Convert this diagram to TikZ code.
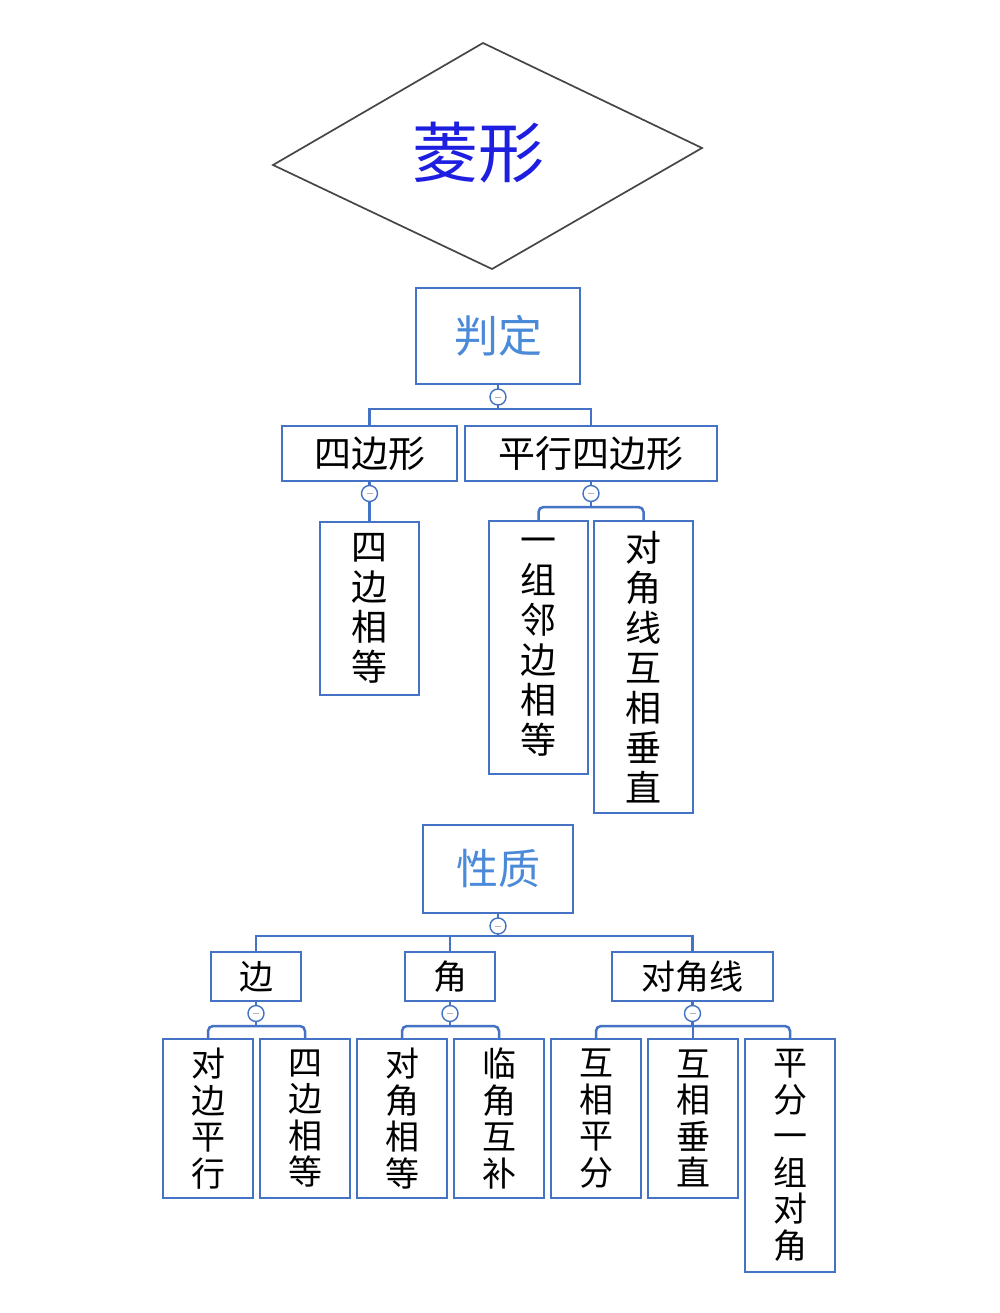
\documentclass[tikz,border=0pt]{standalone}
\usepackage{fontspec}
\newfontfamily\cjk{Noto Sans CJK SC}
\usetikzlibrary{positioning}
\definecolor{boxblue}{HTML}{4472C4}
\definecolor{headblue}{HTML}{4A8AD8}
\definecolor{titleblue}{RGB}{30,30,225}

\begin{document}
\begin{tikzpicture}[
    x=1pt, y=-1pt,
    every node/.style={outer sep=0pt},
    head/.style={draw=boxblue, line width=2pt, text=headblue, inner sep=0pt},
    cat/.style={draw=boxblue, line width=2pt, inner sep=0pt, minimum height=55pt,
      font=\cjk\fontsize{37}{40}\selectfont},
    leaf/.style={draw=boxblue, line width=2pt, inner sep=0pt, align=center,
      minimum width=99pt, font=\cjk\fontsize{36}{40}\selectfont},
    small/.style={draw=boxblue, line width=2pt, inner sep=0pt, align=center,
      minimum width=90pt, font=\cjk\fontsize{34}{36.5}\selectfont},
    fold/.style={circle, draw=boxblue, line width=1.4pt, fill=white, minimum size=16pt,
      inner sep=0pt, path picture={\draw[gray!60, line width=0.8pt]
        ([xshift=-3pt]path picture bounding box.center) -- ([xshift=3pt]path picture bounding box.center);}},
    link/.style={draw=boxblue, line width=2.5pt}
  ]
  \fill[white] (0,0) rectangle (1000,1313);
  \useasboundingbox (0,0) rectangle (1000,1313);

  % title
  \coordinate (dtop) at (483,43);
  \coordinate (dright) at (702,148);
  \coordinate (dbottom) at (492,269);
  \coordinate (dleft) at (273,165);
  \draw[gray!55!black, line width=1.7pt] (dtop) -- (dright) -- (dbottom) -- (dleft) -- cycle;
  \node[text=titleblue, font=\cjk\fontsize{66}{70}\selectfont] (title) at (478,153) {菱形};

  % 判定
  \node[head, minimum width=164pt, minimum height=96pt, font=\cjk\fontsize{44}{48}\selectfont] (panding) at (498,336) {判定};
  \node[fold, below=5pt of panding] (f1) {};
  \coordinate[below=4pt of f1] (j1);
  \node[cat, minimum width=175pt, below left=17pt and 41pt of j1] (sibian) {四边形};
  \node[cat, minimum width=252pt, right=8pt of sibian] (pingxing) {平行四边形};

  \node[fold, below=4.5pt of sibian] (f2) {};
  \node[leaf, minimum height=173pt, below=20pt of f2] (sbxd) {四\\边\\相\\等};

  \node[fold, below=4.5pt of pingxing] (f3) {};
  \coordinate[below=5.5pt of f3] (j3);
  \node[leaf, minimum height=253pt, below left=14pt and 3pt of j3] (yzlb) {一\\组\\邻\\边\\相\\等};
  \node[leaf, minimum height=292pt, right=6pt of yzlb.north east, anchor=north west] (djcz) {对\\角\\线\\互\\相\\垂\\直};

  \draw[link] (panding) -- (f1) -- (j1);
  \draw[link] (sibian.north) |- (j1) -| (pingxing.north);
  \draw[link] (sibian) -- (f2) -- (sbxd);
  \draw[link] (pingxing) -- (f3) -- (j3);
  \draw[link, rounded corners=5pt] (yzlb.north) |- (j3) -| (djcz.north);

  % 性质
  \node[head, minimum width=150pt, minimum height=88pt, font=\cjk\fontsize{42}{46}\selectfont] (xingzhi) at (498,869) {性质};
  \node[fold, below=5pt of xingzhi] (f4) {};
  \coordinate[below=2pt of f4] (j4);
  \node[cat, minimum width=90pt, minimum height=49pt, font=\cjk\fontsize{34}{36}\selectfont,
    below left=16pt and 3pt of j4] (jiao) {角};
  \node[cat, minimum width=90pt, minimum height=49pt, font=\cjk\fontsize{34}{36}\selectfont,
    left=104pt of jiao] (bian) {边};
  \node[cat, minimum width=161pt, minimum height=49pt, font=\cjk\fontsize{34}{36}\selectfont,
    right=117pt of jiao] (djx) {对角线};

  \draw[link] (xingzhi) -- (f4) -- (j4);
  \draw[link] (bian.north) |- (j4) -| (djx.north);
  \draw[link] (jiao.north) |- (j4);

  \node[fold, below=4.5pt of bian] (f5) {};
  \node[fold, below=4.5pt of jiao] (f6) {};
  \node[fold, below=4.5pt of djx] (f7) {};
  \coordinate[below=4.5pt of f5] (j5);
  \coordinate[below=4.5pt of f6] (j6);
  \coordinate[below=4.5pt of f7] (j7);

  \node[small, minimum height=159pt, below left=13pt and 3pt of j5] (dbpx) {对\\边\\平\\行};
  \node[small, minimum height=159pt, right=7pt of dbpx.north east, anchor=north west] (bxd) {四\\边\\相\\等};
  \node[small, minimum height=159pt, right=7pt of bxd.north east, anchor=north west] (djxd) {对\\角\\相\\等};
  \node[small, minimum height=159pt, right=7pt of djxd.north east, anchor=north west] (ljhb) {临\\角\\互\\补};
  \node[small, minimum height=159pt, right=7pt of ljhb.north east, anchor=north west] (hxpf) {互\\相\\平\\分};
  \node[small, minimum height=159pt, right=7pt of hxpf.north east, anchor=north west] (hxcz) {互\\相\\垂\\直};
  \node[small, minimum height=233pt, right=7pt of hxcz.north east, anchor=north west] (pfdj) {平\\分\\一\\组\\对\\角};

  \draw[link] (bian) -- (f5) -- (j5);
  \draw[link] (jiao) -- (f6) -- (j6);
  \draw[link] (djx) -- (f7) -- (j7);
  \draw[link, rounded corners=5pt] (dbpx.north) |- (j5) -| (bxd.north);
  \draw[link, rounded corners=5pt] (djxd.north) |- (j6) -| (ljhb.north);
  \draw[link, rounded corners=5pt] (hxpf.north) |- (j7) -| (pfdj.north);
  \draw[link] (hxcz.north) -- (hxcz.north |- j7);
\end{tikzpicture}
\end{document}
